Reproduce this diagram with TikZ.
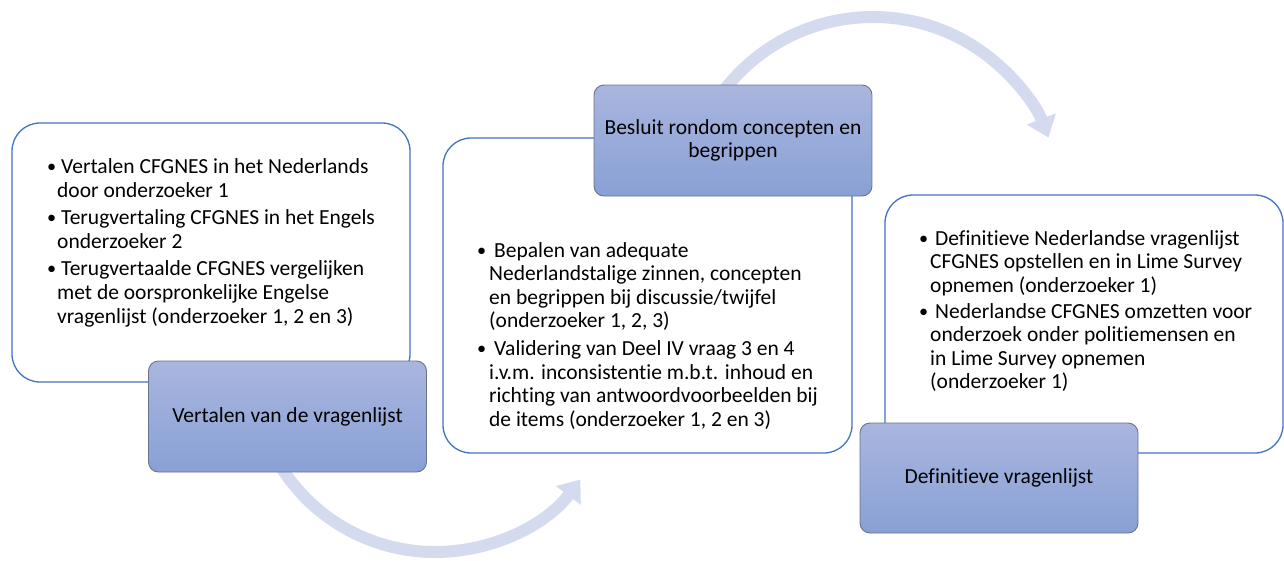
\documentclass[tikz,border=0pt]{standalone}
\usepackage{fontspec}
\usepackage{graphicx}
\setmainfont{Carlito}[Ligatures=NoCommon]
\usetikzlibrary{arrows.meta,calc}

\definecolor{frameblue}{HTML}{4472C4}
\definecolor{stagetop}{RGB}{169,182,223}
\definecolor{stagebot}{RGB}{137,160,213}
\definecolor{stageline}{RGB}{105,115,140}
\definecolor{cyclecol}{RGB}{213,219,238}

% one bulleted entry: #1 = bullet box width, #2 = hanging indent, #3 = text
\newcommand\listentry[3]{\hangindent=#2\hangafter=1\noindent\makebox[#1][l]{\hspace{-1pt}\raisebox{1pt}{\scalebox{0.85}{\textbullet}}}#3\par}

\tikzset{
  listbox/.style={draw=frameblue, line width=1.3pt, fill=white, rounded corners=28pt, inner sep=0pt},
  stagebox/.style={draw=stageline, line width=0.9pt, top color=stagetop, bottom color=stagebot,
    rounded corners=10pt, inner sep=0pt, minimum width=278pt, minimum height=111pt,
    align=center, font=\fontsize{21.5}{23.5}\selectfont},
  cyclearrow/.style={draw=cyclecol, line width=12pt, -{Triangle[length=20pt,width=30pt]}},
  itemtext/.style={inner sep=0pt, anchor=base west}
}

\begin{document}
\begin{tikzpicture}[x=1pt,y=-1pt]
\useasboundingbox (0,0) rectangle (1284,560);

% curved arrows between the stages
\coordinate (c1) at (435,370);
\coordinate (c2) at (873,205);
\draw[cyclearrow] ($(c1)+(150:182)$) arc[start angle=150, end angle=37, radius=182];
\draw[cyclearrow] ($(c2)+(-143:188)$) arc[start angle=-143, end angle=-21, radius=188];

% white list panels
\node[listbox, minimum width=398pt, minimum height=259pt] (list1) at (211,252.5) {};
\node[listbox, minimum width=409pt, minimum height=315pt] (list2) at (647.5,295.5) {};
\node[listbox, minimum width=398pt, minimum height=258pt] (list3) at (1084,324) {};

% panel texts
\node[itemtext] (text1) at (48,173) {\parbox[t]{400pt}{\fontsize{21.5}{24}\selectfont
  \listentry{13pt}{9pt}{Vertalen CFGNES in het Nederlands\\door onderzoeker 1}\vspace{3pt}
  \listentry{13pt}{9pt}{Terugvertaling CFGNES in het Engels\\onderzoeker 2}\vspace{3pt}
  \listentry{13pt}{9pt}{Terugvertaalde CFGNES vergelijken\\met de oorspronkelijke Engelse\\vragenlijst (onderzoeker 1, 2 en 3)}}};

\node[itemtext] (text2) at (478,257) {\parbox[t]{400pt}{\fontsize{21.5}{23.5}\selectfont
  \listentry{16pt}{11pt}{Bepalen van adequate\\Nederlandstalige zinnen, concepten\\en begrippen bij discussie/twijfel\\(onderzoeker 1, 2, 3)}\vspace{4.5pt}
  \listentry{16pt}{11pt}{Validering van Deel IV vraag 3 en 4\\i.v.m. inconsistentie m.b.t. inhoud en\\richting van antwoordvoorbeelden bij\\de items (onderzoeker 1, 2 en 3)}}};

\node[itemtext] (text3) at (920,245) {\parbox[t]{400pt}{\fontsize{21.5}{23.5}\selectfont
  \listentry{15pt}{10pt}{Definitieve Nederlandse vragenlijst\\CFGNES opstellen en in Lime Survey\\opnemen (onderzoeker 1)}\vspace{2.5pt}
  \listentry{15pt}{10pt}{Nederlandse CFGNES omzetten voor\\onderzoek onder politiemensen en\\in Lime Survey opnemen\\(onderzoeker 1)}}};

% stage labels
\node[stagebox] (stage1) at (287.5,416.5) {Vertalen van de vragenlijst};
\node[stagebox] (stage2) at (733,140.5) {Besluit rondom concepten en\\begrippen};
\node[stagebox, minimum height=110pt] (stage3) at (999,478) {Definitieve vragenlijst};
\end{tikzpicture}
\end{document}
